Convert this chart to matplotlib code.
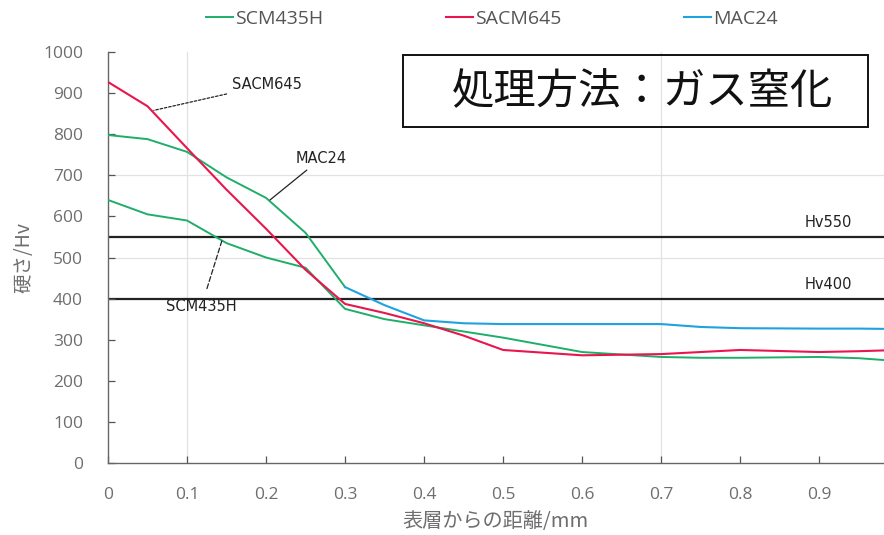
import matplotlib
matplotlib.use("Agg")
import matplotlib.pyplot as plt
from matplotlib.patches import Rectangle

plt.rcParams['font.family'] = ['Open Sans', 'Noto Sans CJK JP', 'DejaVu Sans']

# Depth from the surface (mm)
depth = [0, 0.05, 0.1, 0.15, 0.2, 0.25, 0.3, 0.35, 0.4, 0.45, 0.5, 0.6, 0.7, 0.75, 0.8, 0.9, 0.95, 1.0]

# Hardness profiles (Hv)
scm435h = [640, 605, 590, 535, 500, 475, 375, 350, 335, 320, 305, 270, 258, 256, 256, 258, 255, 248]
sacm645 = [927, 868, 766, 665, 570, 470, 387, 365, 340, 310, 275, 262, 265, 270, 275, 270, 272, 275]
mac24 = [798, 788, 757, 695, 645, 560, 428, 384, 347, 340, 338, 338, 338, 331, 328, 327, 327, 326]

series_names = ["SCM435H", "SACM645", "MAC24"]
thresholds = [550, 400]
threshold_labels = ["Hv550", "Hv400"]

x_ticks = [0, 0.1, 0.2, 0.3, 0.4, 0.5, 0.6, 0.7, 0.8, 0.9]
x_tick_labels = ["0", "0.1", "0.2", "0.3", "0.4", "0.5", "0.6", "0.7", "0.8", "0.9"]
y_ticks = [0, 100, 200, 300, 400, 500, 600, 700, 800, 900, 1000]

GREEN = "#1fae6a"
RED = "#e8164c"
BLUE = "#1ea3e0"
TICK_GRAY = "#6e6e6e"
NOTE_FONT = ["DejaVu Sans"]

fig = plt.figure(figsize=(8.84, 5.35), dpi=100)
ax = fig.add_axes([108 / 884, 72 / 535, 1 - 108 / 884, 411 / 535])

# faint reference grid
for gy in (500, 700):
    ax.axhline(gy, color="#e2e2e2", lw=0.9, zorder=0)
for gx in (0.1, 0.7):
    ax.axvline(gx, color="#e2e2e2", lw=0.9, zorder=0)

# threshold lines
for t in thresholds:
    ax.axhline(t, color="#222222", lw=1.6, zorder=1)
for t, lab in zip(thresholds, threshold_labels):
    ax.text(0.882, t + 35, lab, fontsize=10.5, family=NOTE_FONT, color="#222222",
            ha="left", va="center")

l1, = ax.plot(depth, scm435h, color=GREEN, lw=1.4, label=series_names[0], zorder=3)
l2, = ax.plot(depth, sacm645, color=RED, lw=1.5, label=series_names[1], zorder=4)
# MAC24: near-surface part drawn in green, core part in blue
split = depth.index(0.3)
ax.plot(depth[:split + 1], mac24[:split + 1], color=GREEN, lw=1.4, zorder=3)
l3, = ax.plot(depth[split:], mac24[split:], color=BLUE, lw=1.5, label=series_names[2], zorder=3)

# leader-line labels
ax.annotate(series_names[1], xy=(0.058, 858), xytext=(0.157, 920),
            fontsize=10.5, family=NOTE_FONT, color="#222222", ha="left", va="center",
            arrowprops=dict(arrowstyle="-", color="#222222", lw=0.9, linestyle=(0, (2, 1.5)),
                            shrinkA=2, shrinkB=0))
ax.annotate(series_names[2], xy=(0.205, 640), xytext=(0.238, 742),
            fontsize=10.5, family=NOTE_FONT, color="#222222", ha="left", va="center",
            arrowprops=dict(arrowstyle="-", color="#222222", lw=0.9, shrinkA=2, shrinkB=0))
ax.annotate(series_names[0], xy=(0.144, 540), xytext=(0.118, 380),
            fontsize=10.5, family=NOTE_FONT, color="#222222", ha="center", va="center",
            arrowprops=dict(arrowstyle="-", color="#222222", lw=0.9, linestyle=(0, (4, 2)),
                            shrinkA=6, shrinkB=0))

ax.set_xlim(0, 0.982)
ax.set_ylim(0, 1000)
ax.set_xticks(x_ticks)
ax.set_xticklabels(x_tick_labels)
ax.set_yticks(y_ticks)
ax.tick_params(axis="both", direction="in", length=5, width=0.9, color="#555555",
               labelsize=12.5, labelcolor=TICK_GRAY)
ax.tick_params(axis="x", pad=17)
ax.tick_params(axis="y", pad=18)

for side in ("top", "right"):
    ax.spines[side].set_visible(False)
for side in ("left", "bottom"):
    ax.spines[side].set_color("#666666")
    ax.spines[side].set_linewidth(1.0)

ax.set_xlabel("表層からの距離/mm", fontsize=14.5, color=TICK_GRAY,
              family=["Noto Sans CJK JP", "DejaVu Sans"], labelpad=6)
ax.set_ylabel("硬さ/Hv", fontsize=14, color=TICK_GRAY,
              family=["Noto Sans CJK JP", "DejaVu Sans"], labelpad=6)

fig.legend(handles=[l1, l2, l3], loc="center", bbox_to_anchor=(492 / 884, 1 - 19 / 535),
           ncol=3, frameon=False, fontsize=14, handlelength=1.4, handletextpad=0.1,
           columnspacing=6.3, labelcolor="#555555")

# treatment method box
fig.add_artist(Rectangle((403 / 884, 1 - 127 / 535), 465 / 884, 72 / 535,
                         transform=fig.transFigure, fill=False, edgecolor="#111111", lw=1.4))
fig.text(643 / 884, 1 - 92 / 535, "処理方法：ガス窒化", fontsize=30.5,
         family=["Noto Sans CJK JP", "DejaVu Sans"], color="#111111", ha="center", va="center")

fig.savefig("out.png", dpi=100)
